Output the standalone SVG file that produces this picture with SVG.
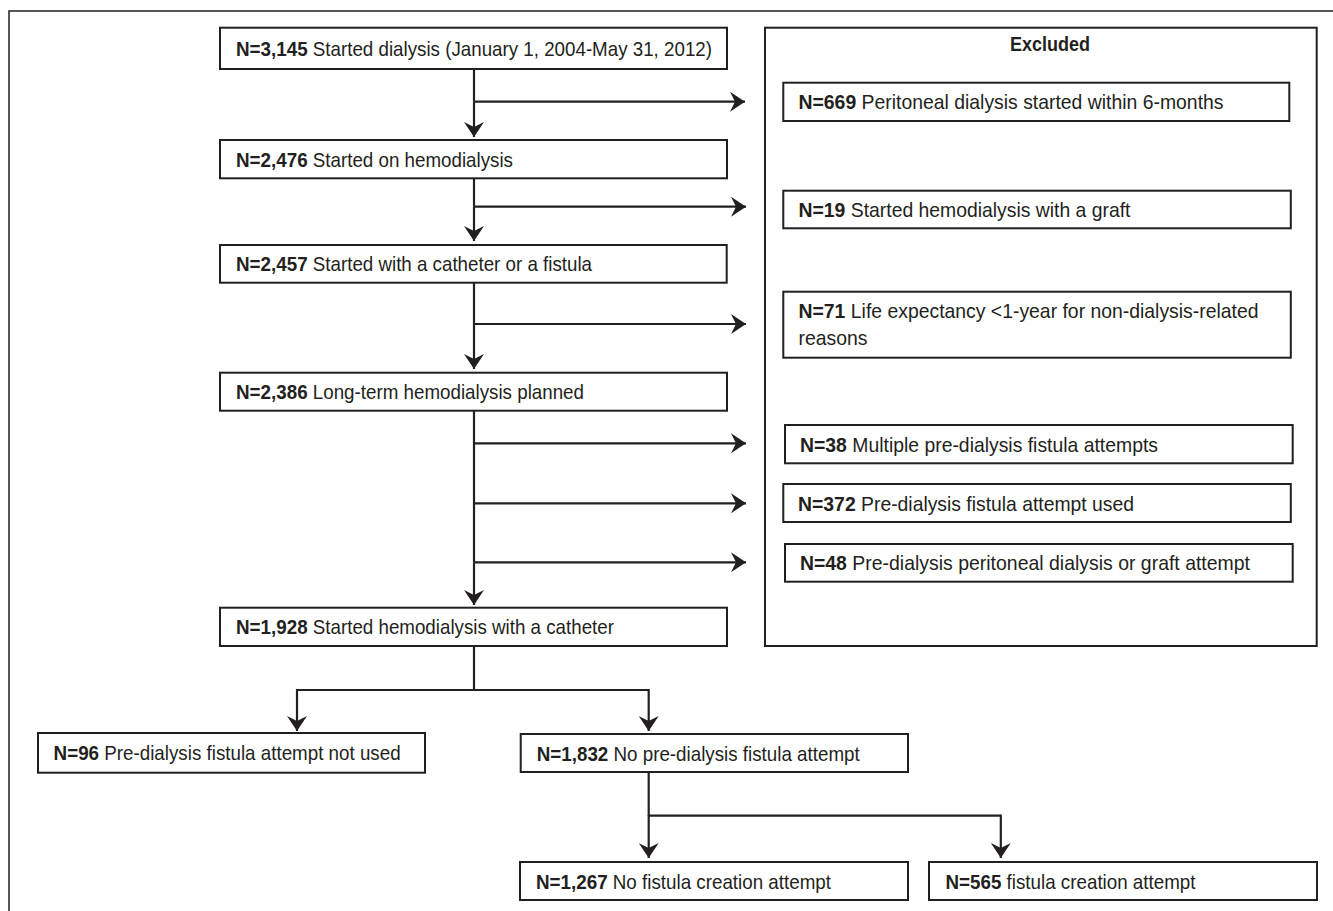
<svg xmlns="http://www.w3.org/2000/svg" width="1333" height="911" viewBox="0 0 1333 911">
<defs>
<marker id="ah" viewBox="0 0 16 20" refX="15" refY="10" markerWidth="16" markerHeight="20" markerUnits="userSpaceOnUse" orient="auto">
<path d="M15,10 L0,0 L5,10 L0,20 Z" fill="#231f20"/>
</marker>
<style>
.box{fill:#fff;stroke:#231f20;stroke-width:2}
.frame{fill:none;stroke:#231f20;stroke-width:1.5}
.ln{fill:none;stroke:#231f20;stroke-width:2.2}
.ar{fill:none;stroke:#231f20;stroke-width:2.2;marker-end:url(#ah)}
text{font-family:"Liberation Sans",Arial,sans-serif;font-size:21px;fill:#231f20}
.b{font-weight:bold}
</style>
</defs>
<rect width="1333" height="911" fill="#fff"/>
<path class="frame" d="M9,920 V11 H1340"/>

<g id="connectors">
<line class="ln" x1="474" y1="69" x2="474" y2="101.7"/>
<line class="ar" x1="474" y1="101.7" x2="474" y2="137"/>
<line class="ar" x1="474" y1="101.7" x2="745" y2="101.7"/>
<line class="ln" x1="474" y1="178.3" x2="474" y2="206.7"/>
<line class="ar" x1="474" y1="206.7" x2="474" y2="241"/>
<line class="ar" x1="474" y1="206.7" x2="746" y2="206.7"/>
<line class="ln" x1="474" y1="282.7" x2="474" y2="324"/>
<line class="ar" x1="474" y1="324" x2="474" y2="369"/>
<line class="ar" x1="474" y1="324" x2="746" y2="324"/>
<line class="ln" x1="474" y1="410.7" x2="474" y2="562.3"/>
<line class="ar" x1="474" y1="562.3" x2="474" y2="605"/>
<line class="ar" x1="474" y1="443.3" x2="746" y2="443.3"/>
<line class="ar" x1="474" y1="503.3" x2="746" y2="503.3"/>
<line class="ar" x1="474" y1="562.3" x2="746" y2="562.3"/>
<line class="ln" x1="474" y1="646" x2="474" y2="690"/>
<path class="ln" d="M297,690 H648.7"/>
<line class="ar" x1="297" y1="689" x2="297" y2="731"/>
<line class="ar" x1="648.7" y1="689" x2="648.7" y2="731"/>
<line class="ln" x1="648.7" y1="772" x2="648.7" y2="815.7"/>
<path class="ln" d="M648.7,815.7 H1000.8"/>
<line class="ar" x1="648.7" y1="815" x2="648.7" y2="858"/>
<line class="ar" x1="1000.8" y1="814.6" x2="1000.8" y2="858"/>
</g>

<g id="n3145">
<rect class="box" x="220" y="27.7" width="507" height="41.3"/>
<text class="b" x="236" y="56" textLength="71.6" lengthAdjust="spacingAndGlyphs">N=3,145</text>
<text x="312.8" y="56" textLength="399.2" lengthAdjust="spacingAndGlyphs">Started dialysis (January 1, 2004-May 31, 2012)</text>
</g>
<g id="n2476">
<rect class="box" x="220" y="140" width="507" height="38.3"/>
<text class="b" x="236" y="166.6" textLength="71.6" lengthAdjust="spacingAndGlyphs">N=2,476</text>
<text x="312.8" y="166.6" textLength="200.2" lengthAdjust="spacingAndGlyphs">Started on hemodialysis</text>
</g>
<g id="n2457">
<rect class="box" x="220" y="245" width="506.7" height="37.7"/>
<text class="b" x="236" y="271.4" textLength="71.6" lengthAdjust="spacingAndGlyphs">N=2,457</text>
<text x="312.8" y="271.4" textLength="279.2" lengthAdjust="spacingAndGlyphs">Started with a catheter or a fistula</text>
</g>
<g id="n2386">
<rect class="box" x="220" y="372.7" width="507" height="38"/>
<text class="b" x="236" y="399.2" textLength="71.6" lengthAdjust="spacingAndGlyphs">N=2,386</text>
<text x="312.8" y="399.2" textLength="271.2" lengthAdjust="spacingAndGlyphs">Long-term hemodialysis planned</text>
</g>
<g id="n1928">
<rect class="box" x="220" y="607.7" width="507" height="38.3"/>
<text class="b" x="236" y="634.4" textLength="71.6" lengthAdjust="spacingAndGlyphs">N=1,928</text>
<text x="312.8" y="634.4" textLength="301.2" lengthAdjust="spacingAndGlyphs">Started hemodialysis with a catheter</text>
</g>

<g id="excluded">
<rect class="box" x="765" y="27.7" width="551.7" height="618.3"/>
<text class="b" x="1050" y="51" text-anchor="middle" textLength="80" lengthAdjust="spacingAndGlyphs">Excluded</text>
</g>
<g id="e669">
<rect class="box" x="783.3" y="82.7" width="506" height="38.3"/>
<text class="b" x="798.5" y="109.4" textLength="57.7" lengthAdjust="spacingAndGlyphs">N=669</text>
<text x="861.6" y="109.4" textLength="361.9" lengthAdjust="spacingAndGlyphs">Peritoneal dialysis started within 6-months</text>
</g>
<g id="e19">
<rect class="box" x="783.3" y="190.7" width="507.5" height="37.6"/>
<text class="b" x="798.5" y="217" textLength="46.9" lengthAdjust="spacingAndGlyphs">N=19</text>
<text x="850.8" y="217" textLength="279.7" lengthAdjust="spacingAndGlyphs">Started hemodialysis with a graft</text>
</g>
<g id="e71">
<rect class="box" x="783.3" y="291.7" width="507.5" height="66"/>
<text class="b" x="798.5" y="318" textLength="46.9" lengthAdjust="spacingAndGlyphs">N=71</text>
<text x="850.8" y="318" textLength="407.7" lengthAdjust="spacingAndGlyphs">Life expectancy &lt;1-year for non-dialysis-related</text>
<text x="798.5" y="345" textLength="69" lengthAdjust="spacingAndGlyphs">reasons</text>
</g>
<g id="e38">
<rect class="box" x="785" y="425" width="507.7" height="38.3"/>
<text class="b" x="800" y="451.7" textLength="46.9" lengthAdjust="spacingAndGlyphs">N=38</text>
<text x="852.3" y="451.7" textLength="305.7" lengthAdjust="spacingAndGlyphs">Multiple pre-dialysis fistula attempts</text>
</g>
<g id="e372">
<rect class="box" x="783.3" y="484" width="507.5" height="38"/>
<text class="b" x="798" y="510.5" textLength="57.7" lengthAdjust="spacingAndGlyphs">N=372</text>
<text x="861.1" y="510.5" textLength="272.9" lengthAdjust="spacingAndGlyphs">Pre-dialysis fistula attempt used</text>
</g>
<g id="e48">
<rect class="box" x="785" y="544" width="507.7" height="37.7"/>
<text class="b" x="800" y="570.4" textLength="46.9" lengthAdjust="spacingAndGlyphs">N=48</text>
<text x="852.3" y="570.4" textLength="397.7" lengthAdjust="spacingAndGlyphs">Pre-dialysis peritoneal dialysis or graft attempt</text>
</g>

<g id="n96">
<rect class="box" x="38" y="733" width="387" height="39.7"/>
<text class="b" x="53.6" y="760.4" textLength="45.5" lengthAdjust="spacingAndGlyphs">N=96</text>
<text x="104.3" y="760.4" textLength="296.3" lengthAdjust="spacingAndGlyphs">Pre-dialysis fistula attempt not used</text>
</g>
<g id="n1832">
<rect class="box" x="520.7" y="734" width="387.3" height="38"/>
<text class="b" x="536.7" y="760.5" textLength="71.6" lengthAdjust="spacingAndGlyphs">N=1,832</text>
<text x="613.5" y="760.5" textLength="246.2" lengthAdjust="spacingAndGlyphs">No pre-dialysis fistula attempt</text>
</g>
<g id="n1267">
<rect class="box" x="520" y="862" width="388" height="38"/>
<text class="b" x="536" y="888.5" textLength="71.6" lengthAdjust="spacingAndGlyphs">N=1,267</text>
<text x="612.8" y="888.5" textLength="218.2" lengthAdjust="spacingAndGlyphs">No fistula creation attempt</text>
</g>
<g id="n565">
<rect class="box" x="929" y="862" width="388" height="38"/>
<text class="b" x="945.5" y="888.5" textLength="55.9" lengthAdjust="spacingAndGlyphs">N=565</text>
<text x="1006.6" y="888.5" textLength="188.9" lengthAdjust="spacingAndGlyphs">fistula creation attempt</text>
</g>
</svg>
